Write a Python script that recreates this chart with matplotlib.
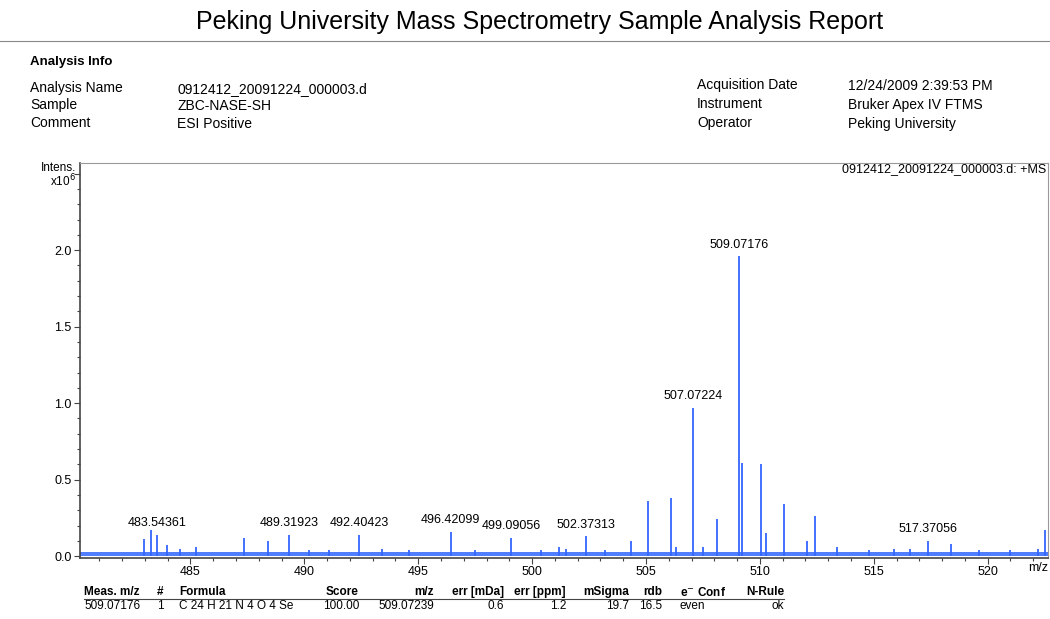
import matplotlib
matplotlib.use("Agg")
from matplotlib import pyplot as plt
from matplotlib.ticker import MultipleLocator, FuncFormatter
from matplotlib.lines import Line2D

plt.rcParams['font.family'] = ['Liberation Sans', 'DejaVu Sans']

# spectrum peaks (m/z, intensity x10^6)
peak_mz = [482.95, 483.25, 483.54361, 483.95, 484.55, 485.25, 487.35, 488.4, 489.31923,
           490.2, 491.1, 492.40423, 493.4, 494.6, 496.42099, 497.5, 499.09056, 500.4,
           501.2, 501.5, 502.37313, 503.2, 504.35, 505.1, 506.1, 506.3, 507.07224,
           507.5, 508.1, 509.07176, 509.23, 510.07, 510.25, 511.05, 512.05, 512.4,
           513.4, 514.8, 515.9, 516.6, 517.37056, 518.4, 519.6, 521.0, 522.2, 522.5]
peak_int = [0.11, 0.17, 0.14, 0.07, 0.05, 0.06, 0.12, 0.10, 0.14,
            0.04, 0.04, 0.14, 0.05, 0.04, 0.16, 0.04, 0.12, 0.04,
            0.06, 0.05, 0.13, 0.04, 0.10, 0.36, 0.38, 0.06, 0.97,
            0.06, 0.24, 1.96, 0.61, 0.60, 0.15, 0.34, 0.10, 0.26,
            0.06, 0.04, 0.05, 0.05, 0.10, 0.08, 0.04, 0.04, 0.05, 0.17]
noise_level = 0.028

# labelled peaks
label_mz = [483.54361, 489.31923, 492.40423, 496.42099, 499.09056, 502.37313,
            507.07224, 509.07176, 517.37056]

x_range = (480.15, 522.65)
y_max = 2.57

info_left = [("Analysis Name", "0912412_20091224_000003.d"),
             ("Sample", "ZBC-NASE-SH"),
             ("Comment", "ESI Positive")]
info_right = [("Acquisition Date", "12/24/2009 2:39:53 PM"),
              ("Instrument", "Bruker Apex IV FTMS"),
              ("Operator", "Peking University")]

table_header = ["Meas. m/z", "#", "Formula", "Score", "m/z", "err [mDa]",
                "err [ppm]", "mSigma", "rdb", "e$^{-}$ Conf", "N-Rule"]
table_row = ["509.07176", "1", "C 24 H 21 N 4 O 4 Se", "100.00", "509.07239",
             "0.6", "1.2", "19.7", "16.5", "even", "ok"]

W, H = 1050, 619
fig = plt.figure(figsize=(W / 100, H / 100), dpi=100)


def px(x, y):
    return x / W, 1 - y / H


# title
fig.text(*px(540, 22), "Peking University Mass Spectrometry Sample Analysis Report",
         ha="center", va="center", fontsize=18)
fig.add_artist(Line2D([0, 1], [1 - 41 / H] * 2, color="#888888", lw=0.8))

# analysis info
fig.text(*px(30, 62), "Analysis Info", ha="left", va="center", fontsize=9.5, weight="bold")
left_y = [88, 105, 123]
right_y = [85, 104, 123]
for y, (k, v) in zip(left_y, info_left):
    fig.text(*px(30, y), k, ha="left", va="center", fontsize=10)
    fig.text(*px(177, y + 1), v, ha="left", va="center", fontsize=10)
for y, (k, v) in zip(right_y, info_right):
    fig.text(*px(697, y), k, ha="left", va="center", fontsize=10)
    fig.text(*px(848, y + 1), v, ha="left", va="center", fontsize=10)

# spectrum
ax = fig.add_axes([80 / W, 1 - 558 / H, 968 / W, (558 - 163) / H])
ax.fill_between(x_range, 0, noise_level, color="#3366ff", lw=0, alpha=0.85)
ax.vlines(peak_mz, 0, peak_int, color="#3366ff", lw=1.3)
for m in label_mz:
    h = peak_int[peak_mz.index(m)]
    ax.annotate("%.5f" % m, (m, h), xytext=(0, 4), textcoords="offset points",
                ha="center", va="bottom", fontsize=9)

ax.set_xlim(*x_range)
ax.set_ylim(-0.012, y_max)
ax.xaxis.set_major_locator(MultipleLocator(5))
ax.xaxis.set_minor_locator(MultipleLocator(1))
ax.yaxis.set_major_locator(MultipleLocator(0.5))
ax.yaxis.set_minor_locator(MultipleLocator(0.1))
ax.yaxis.set_major_formatter(FuncFormatter(lambda v, p: "%.1f" % v if v < 2.2 else ""))
ax.tick_params(labelsize=9, length=4, color="#444444", width=0.8)
ax.tick_params(which="minor", length=2.5, color="#444444", width=0.8)
ax.tick_params(axis="x", pad=2)
ax.tick_params(axis="y", pad=2)
for s in ["left", "bottom"]:
    ax.spines[s].set_color("#444444")
    ax.spines[s].set_linewidth(1.2)
for s in ["top", "right"]:
    ax.spines[s].set_color("#999999")
    ax.spines[s].set_linewidth(0.8)

fig.text(*px(76, 168), "Intens.", ha="right", va="center", fontsize=8.5)
fig.text(*px(76, 181), "x10$^6$", ha="right", va="center", fontsize=8.5)
fig.text(*px(1046, 169), "0912412_20091224_000003.d: +MS", ha="right", va="center",
         fontsize=9)
fig.text(*px(1048, 568), "m/z", ha="right", va="center", fontsize=9)

# formula table
col_x = [84, 160, 179, 359, 434, 504, 566, 629, 662, 680, 784]
col_ha = ["left", "center", "left", "right", "right", "right", "right", "right",
          "right", "left", "right"]
for x, ha, hd, val in zip(col_x, col_ha, table_header, table_row):
    fig.text(*px(x, 592), hd, ha=ha, va="center", fontsize=8.5, weight="bold")
    fig.text(*px(x, 606), val, ha=ha, va="center", fontsize=8.5)
fig.add_artist(Line2D([84 / W, 784 / W], [1 - 599 / H] * 2, color="#444444", lw=0.8))

fig.savefig("out.png", dpi=100)
